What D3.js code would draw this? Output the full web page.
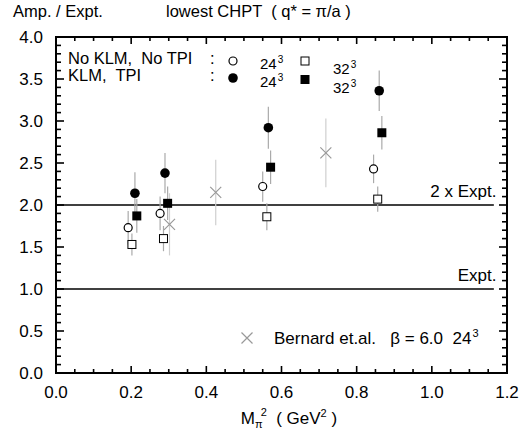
<!DOCTYPE html>
<html>
<head>
<meta charset="utf-8">
<script src="https://cdn.jsdelivr.net/npm/d3@7"></script>
<style>
  body { margin: 0; background: #fff; }
  text { font-family: "Liberation Sans", Arial, sans-serif; fill: #000; }
</style>
</head>
<body>
<svg id="chart" width="530" height="436"></svg>
<script>
// data: [M_pi^2, ratio, error]
let open24 = [[0.192, 1.73, 0.20], [0.277, 1.90, 0.20], [0.550, 2.22, 0.18], [0.845, 2.43, 0.17]];
let filled24 = [[0.210, 2.14, 0.25], [0.290, 2.38, 0.24], [0.565, 2.92, 0.25], [0.860, 3.36, 0.24]];
let open32 = [[0.202, 1.53, 0.13], [0.286, 1.60, 0.15], [0.561, 1.86, 0.16], [0.856, 2.07, 0.15]];
let filled32 = [[0.215, 1.87, 0.20], [0.297, 2.02, 0.20], [0.571, 2.45, 0.20], [0.867, 2.86, 0.20]];
let bernard = [[0.302, 1.77, 0.37], [0.425, 2.15, 0.39], [0.718, 2.62, 0.41]];
let refLines = [{v: 2.0, label: "2 x Expt."}, {v: 1.0, label: "Expt."}];
let xTicks = [0.0, 0.2, 0.4, 0.6, 0.8, 1.0, 1.2];
let yTicks = [0.0, 0.5, 1.0, 1.5, 2.0, 2.5, 3.0, 3.5, 4.0];

let svg = d3.select("#chart"),
    mLeft = 56, mRight = 507, mTop = 37, mBottom = 373;

let x = d3.scaleLinear().domain([0, 1.2]).range([mLeft, mRight]);
let y = d3.scaleLinear().domain([0, 4]).range([mBottom, mTop]);

// ticks (inward, all four sides)
let ax = svg.append("g");
let xMinor = d3.range(0, 1.2001, 0.05);
let yMinor = d3.range(0, 4.0001, 0.1);
const isMajorX = v => Math.abs(v / 0.2 - Math.round(v / 0.2)) < 1e-6;
const isMajorY = v => Math.abs(v / 0.5 - Math.round(v / 0.5)) < 1e-6;

ax.selectAll(".xb").data(xMinor).enter().append("line")
    .attr("x1", d => x(d)).attr("x2", d => x(d))
    .attr("y1", mBottom).attr("y2", d => mBottom - (isMajorX(d) ? 7 : 4))
    .attr("stroke", "#000").attr("stroke-width", 1.6);
ax.selectAll(".xt").data(xMinor).enter().append("line")
    .attr("x1", d => x(d)).attr("x2", d => x(d))
    .attr("y1", mTop).attr("y2", d => mTop + (isMajorX(d) ? 7 : 4))
    .attr("stroke", "#000").attr("stroke-width", 1.6);
ax.selectAll(".yl").data(yMinor).enter().append("line")
    .attr("y1", d => y(d)).attr("y2", d => y(d))
    .attr("x1", mLeft).attr("x2", d => mLeft + (isMajorY(d) ? 8 : 5))
    .attr("stroke", "#000").attr("stroke-width", 1.6);
ax.selectAll(".yr").data(yMinor).enter().append("line")
    .attr("y1", d => y(d)).attr("y2", d => y(d))
    .attr("x1", mRight).attr("x2", d => mRight - (isMajorY(d) ? 8 : 5))
    .attr("stroke", "#000").attr("stroke-width", 1.6);

svg.append("rect")
    .attr("x", mLeft).attr("y", mTop)
    .attr("width", mRight - mLeft).attr("height", mBottom - mTop)
    .attr("fill", "none").attr("stroke", "#000").attr("stroke-width", 2);

// tick labels
svg.selectAll(".xl").data(xTicks).enter().append("text")
    .attr("x", d => x(d)).attr("y", 398)
    .attr("text-anchor", "middle").style("font-size", "17px")
    .text(d => d.toFixed(1));
svg.selectAll(".ylab").data(yTicks).enter().append("text")
    .attr("x", 43).attr("y", d => y(d) + 6)
    .attr("text-anchor", "end").style("font-size", "17px")
    .text(d => d.toFixed(1));

// reference lines
svg.selectAll(".ref").data(refLines).enter().append("line")
    .attr("x1", x(0)).attr("x2", x(1.165))
    .attr("y1", d => y(d.v)).attr("y2", d => y(d.v))
    .attr("stroke", "#000").attr("stroke-width", 1.5);
svg.selectAll(".refl").data(refLines).enter().append("text")
    .attr("x", x(1.172)).attr("y", d => y(d.v) - 8)
    .attr("text-anchor", "end").style("font-size", "17px")
    .text(d => d.label);

// error bars
function errBars(data, col) {
    svg.append("g").selectAll("line").data(data).enter().append("line")
        .attr("x1", d => x(d[0])).attr("x2", d => x(d[0]))
        .attr("y1", d => y(d[1] - d[2])).attr("y2", d => y(d[1] + d[2]))
        .attr("stroke", col).attr("stroke-width", 1.2);
}
errBars(bernard, "#cfcfcf");
errBars(open24, "#aaa");
errBars(open32, "#aaa");
errBars(filled24, "#aaa");
errBars(filled32, "#aaa");

// markers
function crossPath(cx, cy, s) {
    return `M${cx - s},${cy - s}L${cx + s},${cy + s}M${cx - s},${cy + s}L${cx + s},${cy - s}`;
}
svg.append("g").selectAll("path").data(bernard).enter().append("path")
    .attr("d", d => crossPath(x(d[0]), y(d[1]), 5.5))
    .attr("stroke", "#999").attr("stroke-width", 1.2).attr("fill", "none");
svg.append("g").selectAll("circle").data(open24).enter().append("circle")
    .attr("cx", d => x(d[0])).attr("cy", d => y(d[1])).attr("r", 4)
    .attr("fill", "#fff").attr("stroke", "#000").attr("stroke-width", 1.2);
svg.append("g").selectAll("circle").data(filled24).enter().append("circle")
    .attr("cx", d => x(d[0])).attr("cy", d => y(d[1])).attr("r", 4.8)
    .attr("fill", "#000");
svg.append("g").selectAll("rect").data(open32).enter().append("rect")
    .attr("x", d => x(d[0]) - 4).attr("y", d => y(d[1]) - 4)
    .attr("width", 8).attr("height", 8)
    .attr("fill", "#fff").attr("stroke", "#000").attr("stroke-width", 1);
svg.append("g").selectAll("rect").data(filled32).enter().append("rect")
    .attr("x", d => x(d[0]) - 4.5).attr("y", d => y(d[1]) - 4.5)
    .attr("width", 9).attr("height", 9)
    .attr("fill", "#000");

// legend
let lg = svg.append("g").style("font-size", "16.5px");
lg.append("text").attr("x", 68).attr("y", 64).text("No KLM,  No TPI").attr("xml:space", "preserve");
lg.append("text").attr("x", 210).attr("y", 64).text(":");
lg.append("text").attr("x", 68).attr("y", 81).text("KLM,  TPI").attr("xml:space", "preserve");
lg.append("text").attr("x", 210).attr("y", 81).text(":");
lg.append("circle").attr("cx", 233).attr("cy", 61).attr("r", 4)
    .attr("fill", "#fff").attr("stroke", "#000").attr("stroke-width", 1.2);
lg.append("circle").attr("cx", 233).attr("cy", 78).attr("r", 4.8).attr("fill", "#000");
lg.append("rect").attr("x", 301).attr("y", 57).attr("width", 8).attr("height", 8)
    .attr("fill", "#fff").attr("stroke", "#000").attr("stroke-width", 1);
lg.append("rect").attr("x", 300.5).attr("y", 75).attr("width", 9).attr("height", 9).attr("fill", "#000");

function powLabel(g, px, py, base, exp) {
    let t = g.append("text").attr("x", px).attr("y", py).style("font-size", "15px");
    t.append("tspan").text(base);
    t.append("tspan").attr("dx", 1).attr("dy", -6).style("font-size", "10px").text(exp);
    return t;
}
powLabel(lg, 260, 69, "24", "3");
powLabel(lg, 260, 87, "24", "3");
powLabel(lg, 333, 74, "32", "3");
powLabel(lg, 333, 93, "32", "3");

// Bernard legend
svg.append("path").attr("d", crossPath(247, 338, 5.5))
    .attr("stroke", "#999").attr("stroke-width", 1.2).attr("fill", "none");
let bt = svg.append("text").attr("x", 274).attr("y", 344).style("font-size", "17px")
    .attr("xml:space", "preserve");
bt.append("tspan").text("Bernard et.al.   \u03b2 = 6.0  24");
bt.append("tspan").attr("dx", 1).attr("dy", -7).style("font-size", "11px").text("3");

// titles
svg.append("text").attr("x", 13).attr("y", 17).style("font-size", "16.5px").text("Amp. / Expt.");
svg.append("text").attr("x", 166).attr("y", 17).style("font-size", "16.5px")
    .attr("xml:space", "preserve").text("lowest CHPT  ( q* = \u03c0/a )");

let xt = svg.append("text").attr("x", 289).attr("y", 424)
    .attr("text-anchor", "middle").style("font-size", "17px").attr("xml:space", "preserve");
xt.append("tspan").text("M");
xt.append("tspan").attr("dy", 4).style("font-size", "11px").text("\u03c0");
xt.append("tspan").attr("dx", -2).attr("dy", -12).style("font-size", "11px").text("2");
xt.append("tspan").attr("dy", 8).text("  ( GeV");
xt.append("tspan").attr("dy", -7).style("font-size", "11px").text("2");
xt.append("tspan").attr("dy", 7).text(" )");
</script>
</body>
</html>
